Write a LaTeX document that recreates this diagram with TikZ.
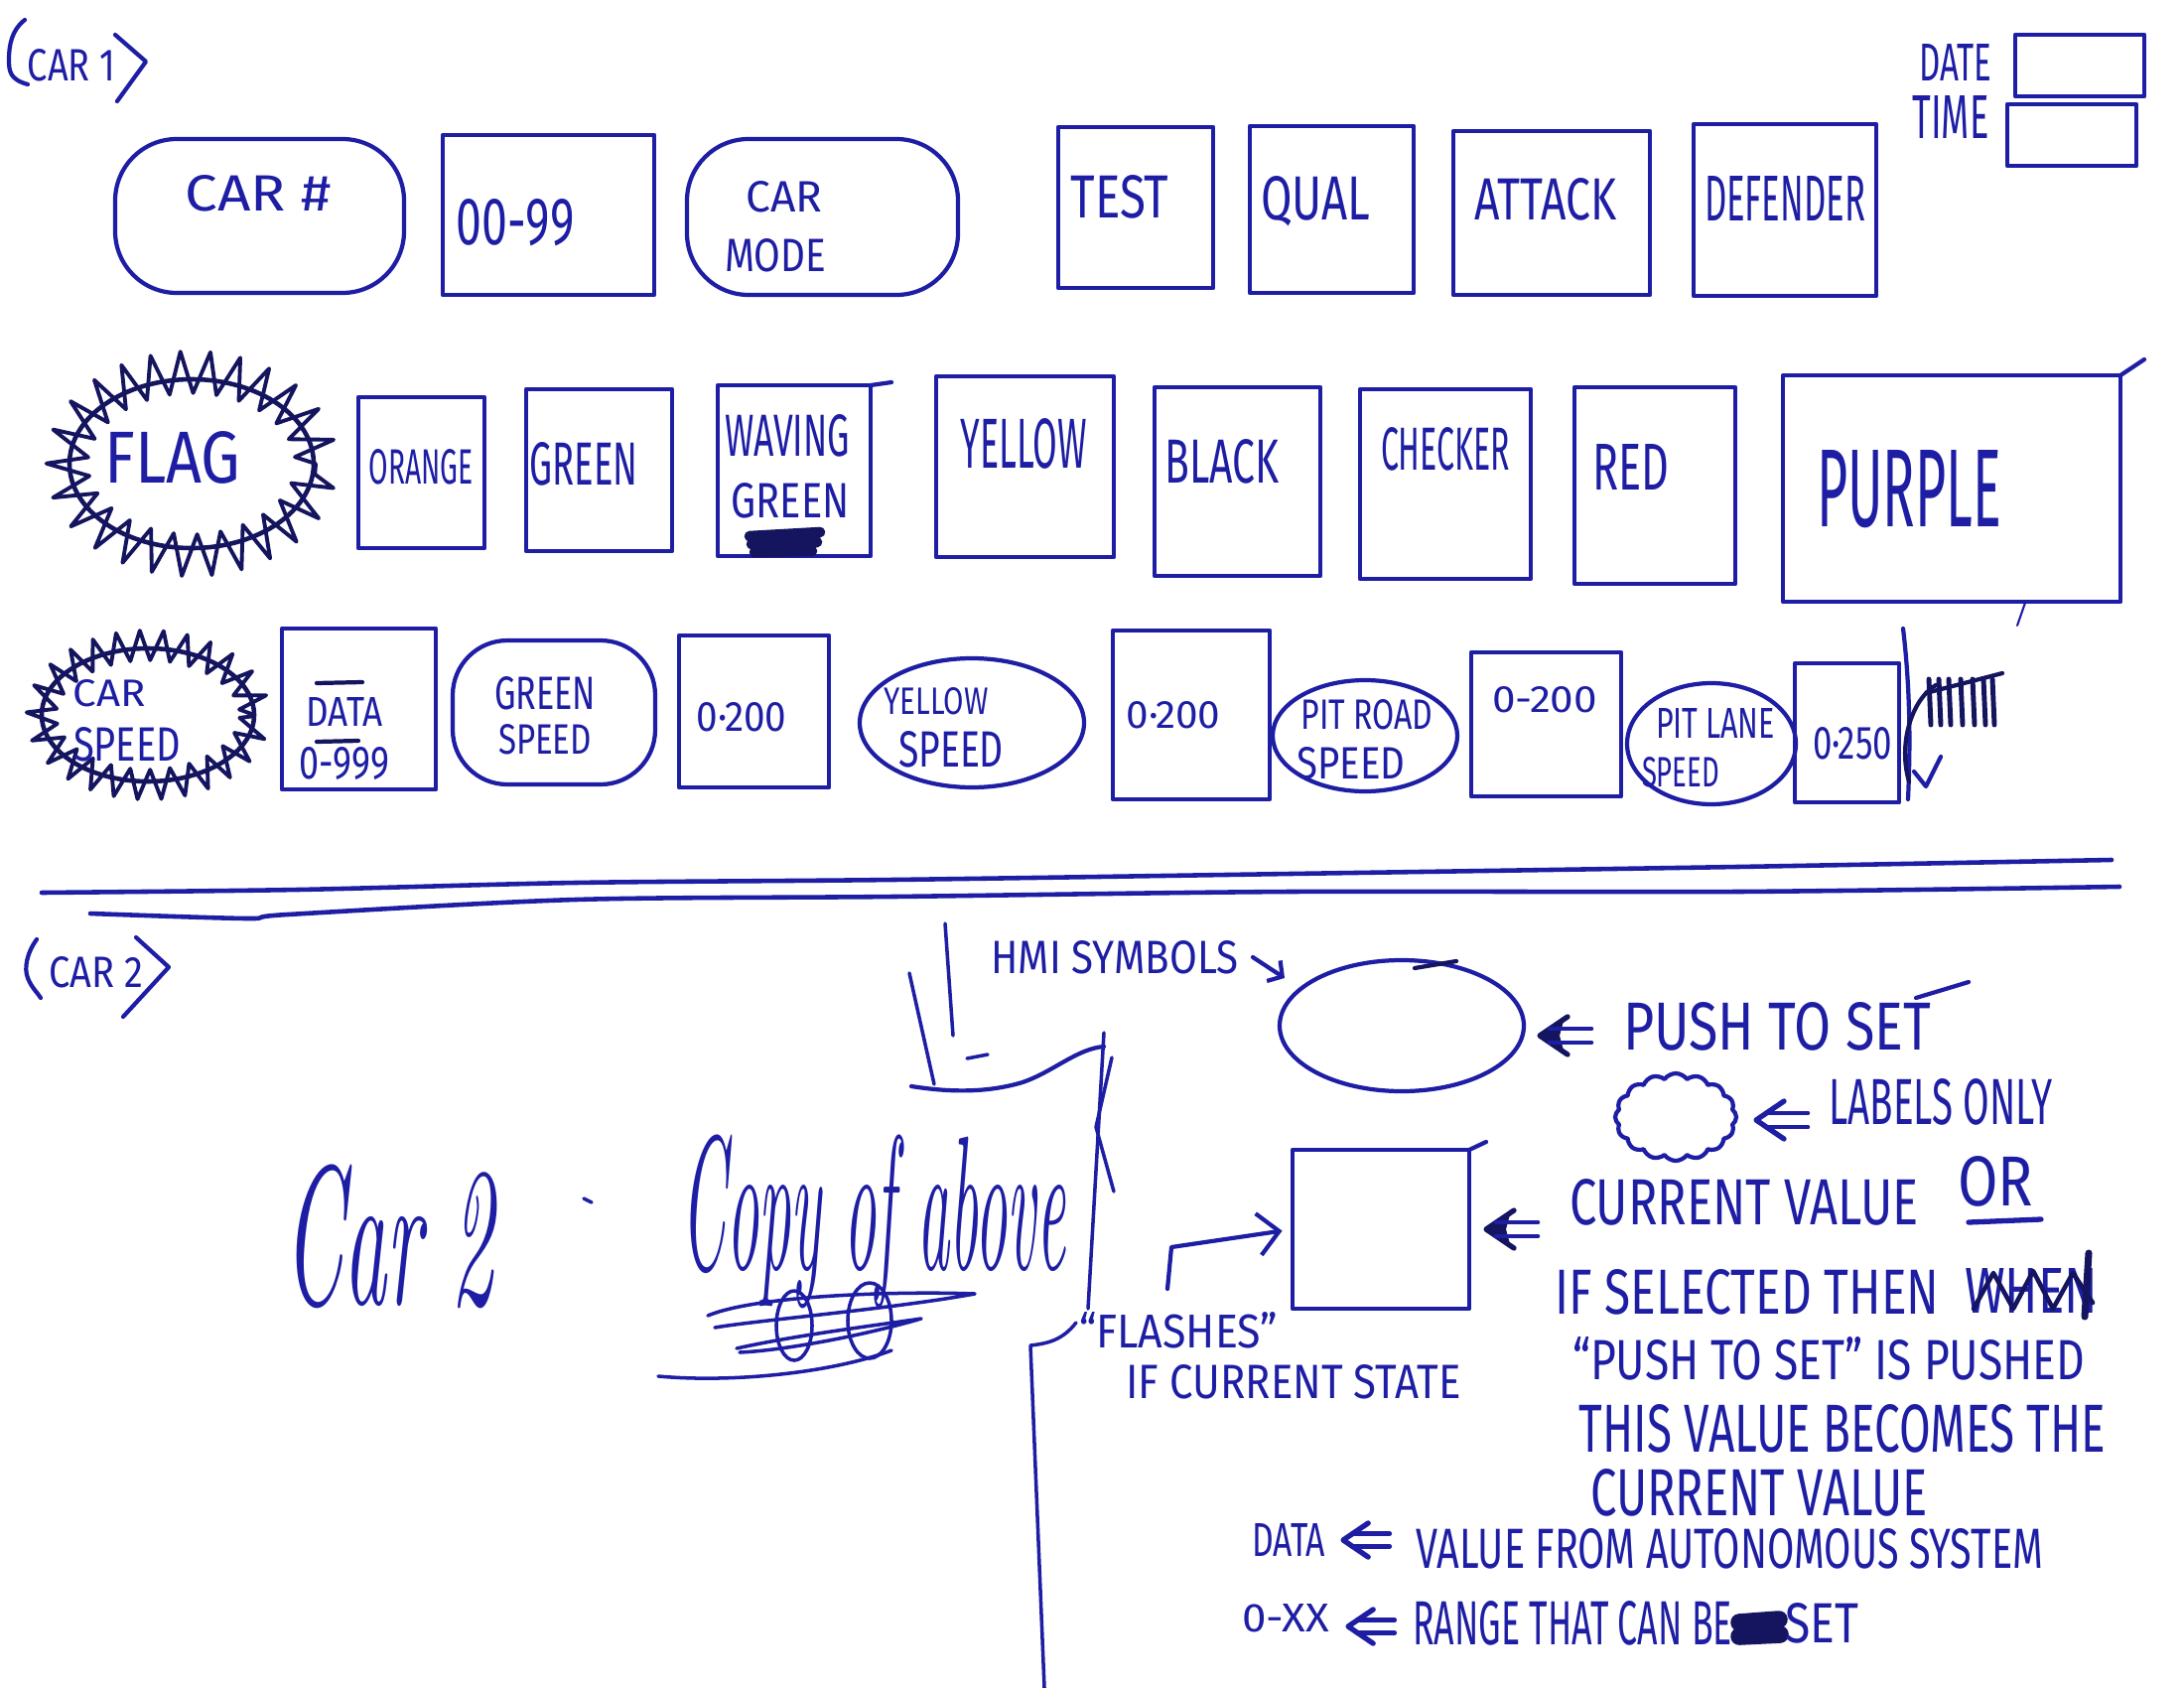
\documentclass[tikz,border=0pt]{standalone}
\usepackage{fontspec}
\usepackage{graphicx}
\newfontfamily\hand{Fira Sans}
\usetikzlibrary{shapes.geometric,shapes.symbols,decorations.pathmorphing,fit,arrows.meta}
\definecolor{ink}{RGB}{30,30,165}
\definecolor{inkd}{RGB}{20,20,95}
\newlength\hwu \setlength\hwu{0.01cm}
\newcommand\hwt[3]{\resizebox{#1\hwu}{#2\hwu}{\hand #3}}
\newcommand\scr[3]{\resizebox*{#1\hwu}{#2\hwu}{\itshape #3}}
\begin{document}
\begin{tikzpicture}[x=0.01cm, y=-0.01cm, line width=1.2pt, line cap=round, line join=round,
  box/.style={draw=ink, line width=1.2pt, rectangle, inner sep=0pt, outer sep=0pt},
  blob/.style={box, rounded corners=#1},
  blob/.default=0.55cm,
  oval/.style={draw=ink, line width=1.2pt, ellipse, inner sep=0pt, outer sep=0pt},
  sz/.style 2 args={minimum width=#1*0.01cm, minimum height=#2*0.01cm},
  txt/.style={inner sep=0pt, outer sep=0pt, text=ink},
  zig/.style 2 args={draw=inkd, line width=1.1pt, decorate, decoration={zigzag, segment length=#1, amplitude=#2}},
  legarr/.pic={\draw[ink, line width=1.5pt] (28,-19) -- (0,0) -- (28,19);
               \draw[ink, line width=1.3pt] (10,-7) -- (52,-7) (10,7) -- (52,7);},
  legarrf/.pic={\fill[inkd] (0,0) -- (24,-15) -- (20,0) -- (24,15) -- cycle;
               \draw[inkd, line width=1.5pt] (28,-19) -- (0,0) -- (28,19);
               \draw[ink, line width=1.3pt] (10,-7) -- (52,-7) (10,7) -- (52,7);}
]
\fill[white] (0,0) rectangle (2200,1700);
\useasboundingbox (0,0) rectangle (2200,1700);

% ---------------- CAR 1 header
\node[txt] (tcar1) at (72,66) {\hwt{88}{32}{CAR 1}};
\draw[ink] (25,20) .. controls (12,30) and (9,45) .. (9,60) .. controls (9,72) and (10,80) .. (28,85);
\draw[ink] (116,35) -- (147,62) -- (118,102);

% ---------------- Row 1
\node[blob=0.62cm, fit={(116,140) (407,295)}] (carno) {};
\node[txt] (tcarno) at (260,195) {\hwt{147}{36}{CAR \#}};
\node[box, fit={(446,136) (659,297)}] (b0099) {};
\node[txt] (t0099) at (519,224) {\hwt{119}{46}{00-99}};
\node[blob=0.62cm, fit={(692,140) (965,297)}] (carmode) {};
\node[txt] (tcar) at (790,198) {\hwt{77}{31}{CAR}};
\node[txt] (tmode) at (781,257) {\hwt{102}{33}{MODE}};
\node[box, fit={(1066,128) (1222,290)}] (test) {};
\node[txt] (ttest) at (1128,198) {\hwt{99}{43}{TEST}};
\node[box, fit={(1259,127) (1424,295)}] (qual) {};
\node[txt] (tqual) at (1325,203) {\hwt{110}{44}{QUAL}};
\node[box, fit={(1464,132) (1662,297)}] (attack) {};
\node[txt] (tattack) at (1557,201) {\hwt{143}{42}{ATTACK}};
\node[box, fit={(1706,125) (1890,298)}] (defender) {};
\node[txt] (tdefender) at (1798,200) {\hwt{162}{45}{DEFENDER}};
\node[txt] (tdate) at (1970,63) {\hwt{73}{37}{DATE}};
\node[box, fit={(2030,35) (2160,97)}] (datebox) {};
\node[txt] (ttime) at (1965,118) {\hwt{77}{43}{TIME}};
\node[box, fit={(2022,105) (2152,167)}] (timebox) {};

% ---------------- Row 2
\node[ellipse, draw=inkd, line width=1.3pt, inner sep=0pt, sz={246}{170}] (flag) at (193,467) {};
\draw[zig={0.27cm}{0.21cm}] (flag.center) ellipse [x radius=1.25cm, y radius=0.92cm];
\node[txt] (tflag) at (174,461) {\hwt{137}{52}{FLAG}};
\node[box, fit={(361,400) (488,552)}] (orange) {};
\node[txt] (torange) at (424,470) {\hwt{105}{35}{ORANGE}};
\node[box, fit={(530,392) (677,555)}] (green) {};
\node[txt] (tgreen) at (588,467) {\hwt{109}{43}{GREEN}};
\node[box, fit={(723,388) (877,560)}] (waving) {};
\draw[ink] (waving.north east) -- (898,385);
\node[txt] (twav) at (793,439) {\hwt{126}{42}{WAVING}};
\node[txt] (twgreen) at (796,504) {\hwt{119}{35}{GREEN}};
\draw[inkd, line width=3pt] (755,540) -- (826,536) -- (757,548) -- (823,546) -- (760,556) -- (818,555);
\node[box, fit={(943,379) (1122,561)}] (yellow) {};
\node[txt] (tyellow) at (1031,447) {\hwt{127}{50}{YELLOW}};
\node[box, fit={(1163,390) (1330,580)}] (black) {};
\node[txt] (tblack) at (1231,465) {\hwt{115}{44}{BLACK}};
\node[box, fit={(1370,392) (1542,583)}] (checker) {};
\node[txt] (tchecker) at (1456,452) {\hwt{130}{43}{CHECKER}};
\node[box, fit={(1586,390) (1748,588)}] (red) {};
\node[txt] (tred) at (1643,470) {\hwt{77}{46}{RED}};
\node[box, fit={(1796,378) (2136,606)}] (purple) {};
\draw[ink] (purple.north east) -- (2160,362);
\draw[ink, line width=0.6pt] (2040,607) -- (2032,630);
\node[txt] (tpurple) at (1923,493) {\hwt{186}{77}{PURPLE}};

% ---------------- Row 3
\node[ellipse, draw=inkd, line width=1.3pt, inner sep=0pt, sz={214}{134}] (carspeed) at (149,720) {};
\draw[zig={0.22cm}{0.15cm}] (carspeed.center) ellipse [x radius=1.07cm, y radius=0.70cm];
\node[txt] (tcs1) at (110,698) {\hwt{73}{27}{CAR}};
\node[txt] (tcs2) at (128,750) {\hwt{108}{34}{SPEED}};
\node[box, fit={(284,633) (439,795)}] (databox) {};
\node[txt] (tdata) at (347,717) {\hwt{77}{29}{DATA}};
\node[txt] (t0999) at (347,769) {\hwt{91}{32}{0-999}};
\draw[inkd] (319,688) -- (365,687);
\draw[inkd] (319,747) -- (361,746);
\node[blob=0.55cm, fit={(456,645) (660,790)}] (greenspeed) {};
\node[txt] (tgs1) at (549,698) {\hwt{102}{33}{GREEN}};
\node[txt] (tgs2) at (549,745) {\hwt{94}{30}{SPEED}};
\node[box, fit={(684,640) (835,793)}] (b0200a) {};
\node[txt] (t0200a) at (747,722) {\hwt{91}{29}{0·200}};
\node[oval, sz={226}{130}] (yellowspeed) at (979,728) {};
\node[txt] (tys1) at (943,706) {\hwt{105}{27}{YELLOW}};
\node[txt] (tys2) at (958,755) {\hwt{106}{36}{SPEED}};
\node[box, fit={(1121,635) (1279,805)}] (b0200b) {};
\node[txt] (t0200b) at (1182,720) {\hwt{95}{27}{0·200}};
\node[oval, sz={186}{112}] (pitroad) at (1375,741) {};
\node[txt] (tpr1) at (1377,720) {\hwt{133}{30}{PIT ROAD}};
\node[txt] (tpr2) at (1361,769) {\hwt{109}{32}{SPEED}};
\node[box, fit={(1482,657) (1633,802)}] (b0200c) {};
\node[txt] (t0200c) at (1556,705) {\hwt{106}{26}{0-200}};
\node[oval, sz={170}{122}] (pitlane) at (1724,749) {};
\node[txt] (tpl1) at (1728,728) {\hwt{120}{30}{PIT LANE}};
\node[txt] (tpl2) at (1693,778) {\hwt{78}{30}{SPEED}};
\node[box, fit={(1808,668) (1913,808)}] (b0250) {};
\node[txt] (t0250) at (1866,749) {\hwt{80}{32}{0·250}};
\draw[ink] (1917,633) .. controls (1925,700) and (1924,760) .. (1922,805);
\draw[inkd] (1923,787) .. controls (1912,750) and (1925,705) .. (1950,690);
\draw[inkd] (1940,698) -- (2017,678);
\foreach \hx in {1943,1953,1963,1975,1987,1998,2007}
  \draw[inkd, line width=1.4pt] (\hx,684) -- (\hx+2,730);
\draw[ink] (1928,777) -- (1940,792) -- (1955,762);

% ---------------- separator
\draw[ink, line width=1.3pt] plot[smooth] coordinates {(42,899) (300,896) (580,889) (900,886) (1300,880) (1750,873) (2127,866)};
\draw[ink, line width=1.3pt] plot[smooth] coordinates {(91,920) (249,925) (290,921) (580,906) (900,903) (1300,898) (1750,898) (2135,893)};

% ---------------- CAR 2
\node[txt] (tcar2) at (97,979) {\hwt{95}{31}{CAR 2}};
\draw[ink] (37,946) .. controls (27,960) and (24,975) .. (28,985) .. controls (32,995) and (38,1000) .. (41,1005);
\draw[ink] (137,944) -- (170,974) -- (124,1024);
\node[txt] (tcar2s) at (392,1245) {\scr{212}{145}{Car 2}};
\draw[ink, line width=1pt] (588,1207) -- (596,1211);
\node[txt] (tcopy) at (880,1230) {\scr{386}{175}{Copy of above}};
\draw[ink, line width=1pt] (713,1325) .. controls (760,1305) and (900,1300) .. (982,1303) .. controls (900,1318) and (760,1330) .. (720,1337);
\draw[ink, line width=1pt] (742,1358) .. controls (800,1345) and (880,1335) .. (928,1328) .. controls (870,1345) and (790,1360) .. (745,1362);
\draw[ink, line width=1pt] (800,1335) ellipse [x radius=0.18cm, y radius=0.35cm];
\draw[ink, line width=1pt] (876,1330) ellipse [x radius=0.22cm, y radius=0.38cm];
\draw[ink, line width=1pt] (663,1386) .. controls (740,1393) and (840,1382) .. (898,1360);

% ---------------- divider
\draw[ink, line width=1pt] (916,980) -- (941,1092);
\draw[ink, line width=1pt] (952,930) -- (960,1043);
\draw[ink] (918,1094) .. controls (950,1099) and (990,1102) .. (1030,1090) .. controls (1060,1080) and (1085,1056) .. (1112,1054);
\draw[ink, line width=1pt] (974,1066) -- (995,1062);
\draw[ink, line width=1pt] (1112,1040) -- (1096,1318);
\draw[ink, line width=1pt] (1120,1065) -- (1104,1135) -- (1122,1200);
\draw[ink, line width=1pt] (1084,1332) .. controls (1070,1350) and (1055,1353) .. (1038,1355) -- (1052,1700);

% ---------------- HMI legend
\node[txt] (thmi) at (1123,964) {\hwt{249}{33}{HMI SYMBOLS}};
\coordinate (hmitip) at (1294,985);
\draw[ink, -{Straight Barb[length=3pt,width=7pt]}] (1262,964) -- (hmitip);
\node[oval, sz={246}{132}] (push) at (1412,1033) {};
\draw[inkd] (1425,975) -- (1467,968);
\pic at (1551,1043) {legarrf};
\node[txt] (tpush) at (1790,1034) {\hwt{310}{48}{PUSH TO SET}};
\draw[ink] (1930,1005) -- (1983,989);
\node[cloud, draw=ink, line width=1.2pt, cloud puffs=16, cloud puff arc=110, aspect=1.3, inner sep=0pt, sz={122}{88}] (cloud) at (1688,1125) {};
\pic at (1769,1128) {legarr};
\node[txt] (tlab) at (1955,1110) {\hwt{225}{46}{LABELS ONLY}};
\node[box, fit={(1302,1158) (1480,1318)}] (cur) {};
\draw[ink] (cur.north east) -- (1497,1150);
\pic at (1497,1238) {legarrf};
\node[txt] (tcur) at (1757,1211) {\hwt{352}{46}{CURRENT VALUE}};
\node[txt] (tor) at (2010,1190) {\hwt{76}{50}{OR}};
\draw[ink, line width=1.5pt] (1983,1231) -- (2056,1228);
\coordinate (fl0) at (1176,1298);
\coordinate (fl1) at (1180,1256);
\draw[ink, -{Straight Barb[length=6pt,width=12pt]}, shorten >=3pt] (fl0) -- (fl1) -- (cur.west);
\node[txt] (tflash) at (1187,1340) {\hwt{200}{36}{“FLASHES”}};
\node[txt] (tifcur) at (1303,1392) {\hwt{337}{34}{IF CURRENT STATE}};
\node[txt] (tifsel) at (1760,1301) {\hwt{387}{45}{IF SELECTED THEN}};
\node[txt] (twhen) at (2046,1300) {\hwt{134}{45}{WHEN}};
\draw[inkd, line width=1.3pt] (1988,1318) -- (2008,1282) -- (2028,1318) -- (2048,1280) -- (2068,1318) -- (2088,1282) -- (2108,1312);
\draw[inkd, line width=2pt] (2104,1262) -- (2100,1326);
\node[txt] (tpushed) at (1842,1368) {\hwt{516}{43}{“PUSH TO SET” IS PUSHED}};
\node[txt] (tthis) at (1856,1439) {\hwt{530}{48}{THIS VALUE BECOMES THE}};
\node[txt] (tcurv) at (1772,1503) {\hwt{340}{47}{CURRENT VALUE}};
\node[txt] (tdat) at (1298,1551) {\hwt{74}{33}{DATA}};
\pic[scale=0.9] at (1353,1551) {legarr};
\node[txt] (tauto) at (1742,1560) {\hwt{632}{40}{VALUE FROM AUTONOMOUS SYSTEM}};
\node[txt] (txx) at (1295,1630) {\hwt{88}{28}{0-XX}};
\pic[scale=0.9] at (1358,1638) {legarr};
\node[txt] (trange) at (1584,1635) {\hwt{322}{44}{RANGE THAT CAN BE}};
\draw[inkd, line width=5pt] (1752,1634) -- (1792,1631) (1752,1648) -- (1793,1646);
\node[txt] (tset) at (1835,1635) {\hwt{74}{40}{SET}};
\end{tikzpicture}
\end{document}
